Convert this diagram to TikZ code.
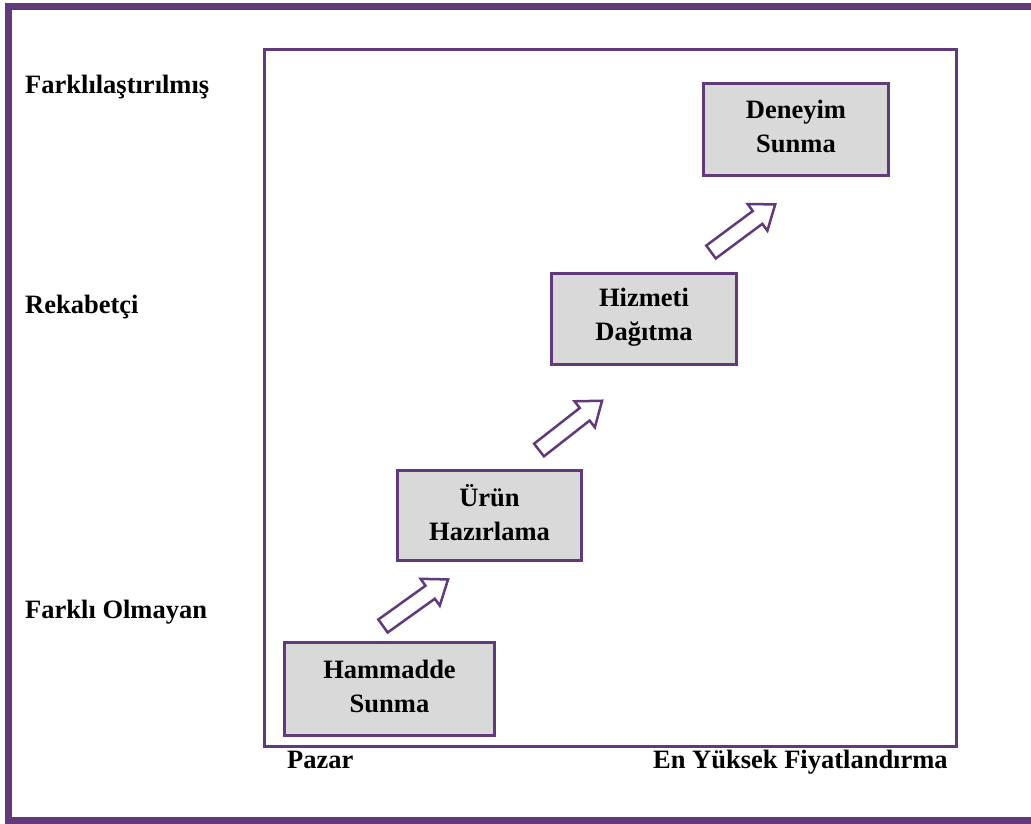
\documentclass[tikz,border=0pt]{standalone}
\usepackage{fontspec}
\setmainfont{Liberation Serif}
\definecolor{frame}{RGB}{96,58,122}
\definecolor{boxgray}{RGB}{217,217,217}
\tikzset{
  stage/.style={draw=frame, line width=3pt, fill=boxgray, inner sep=0pt},
  stagetext/.style={align=center, inner sep=0pt, font=\bfseries\fontsize{26.5}{34}\selectfont},
  axislabel/.style={anchor=base west, inner sep=0pt, font=\bfseries\fontsize{26.5}{34}\selectfont},
  arrowline/.style={draw=frame, fill=white, line width=2.5pt, line join=miter},
  pics/stepup/.style={code={
    \draw[arrowline] (0,-8) -- (58,-8) -- (58,-16.5) -- (80,0) -- (58,16.5) -- (58,8) -- (0,8) -- cycle;
  }}
}
\begin{document}
\begin{tikzpicture}[x=1pt,y=-1pt]
\useasboundingbox (0,0) rectangle (1031,824);
% outer frame and plotting area
\draw[frame, line width=7pt] (8.5,7) rectangle (1045,820);
\draw[frame, line width=3pt] (264.5,49.5) rectangle (956,746);

% value levels
\node[axislabel] (lvl3) at (25,94) {Farklılaştırılmış};
\node[axislabel] (lvl2) at (25,313) {Rekabetçi};
\node[axislabel] (lvl1) at (25,618) {Farklı Olmayan};
\node[axislabel] (mk) at (287,768) {Pazar};
\node[axislabel] (pr) at (653,768) {En Yüksek Fiyatlandırma};

% stages
\node[stage, minimum width=210, minimum height=93] (raw) at (389.5,689) {};
\node[stagetext] (rawt) at ([yshift=3pt]raw.center) {Hammadde\\Sunma};
\node[stage, minimum width=184, minimum height=90] (prod) at (489.5,515.5) {};
\node[stagetext] (prodt) at ([yshift=3pt]prod.center) {Ürün\\Hazırlama};
\node[stage, minimum width=185, minimum height=91] (serv) at (644,319) {};
\node[stagetext] (servt) at ([yshift=2pt]serv.center) {Hizmeti\\Dağıtma};
\node[stage, minimum width=185, minimum height=92] (exp) at (796,129.5) {};
\node[stagetext] (expt) at ([yshift=3pt]exp.center) {Deneyim\\Sunma};

% block arrows between stages
\pic[rotate=35.6] at (383,626) {stepup};
\pic[rotate=38] at (539,450) {stepup};
\pic[rotate=36.6] at (711,252) {stepup};
\end{tikzpicture}
\end{document}
